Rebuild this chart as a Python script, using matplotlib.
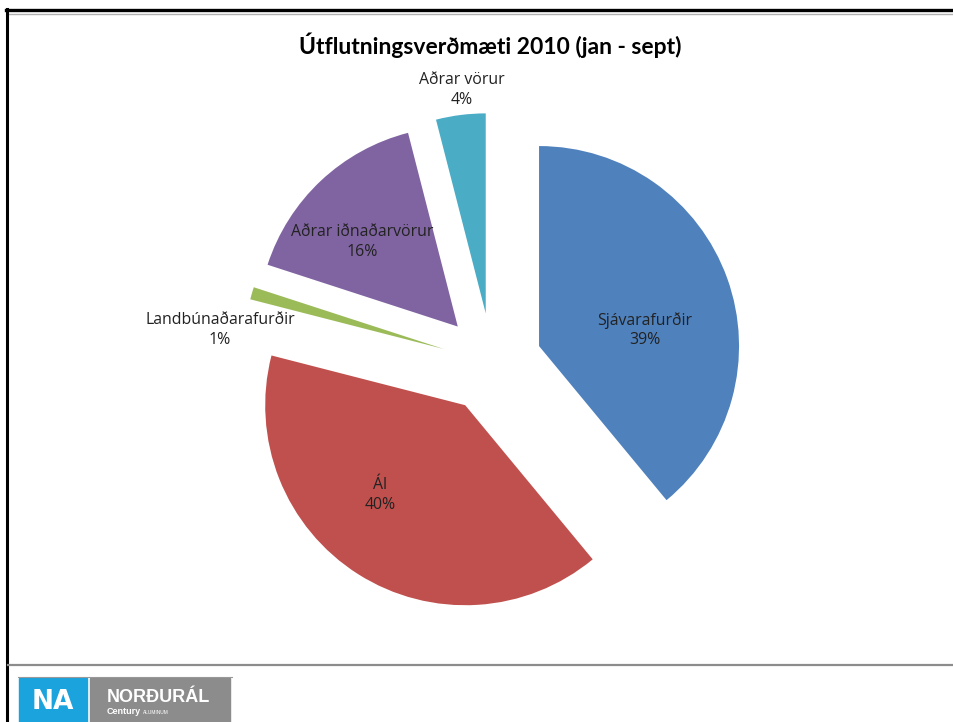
import matplotlib
matplotlib.use("Agg")
import matplotlib.pyplot as plt
from matplotlib.patches import Rectangle
from matplotlib.lines import Line2D
import numpy as np

# ---- data ----
categories = ["Sjávarafurðir", "Ál", "Landbúnaðarafurðir", "Aðrar iðnaðarvörur", "Aðrar vörur"]
values = [39, 40, 1, 16, 4]
title = "Útflutningsverðmæti 2010 (jan - sept)"

# ---- style ----
colors = ["#4F81BD", "#C0504D", "#9BBB59", "#8064A2", "#4BACC6"]
explode = [0.25] * len(values)
# label positions in data units (pie radius = 1)
label_pos = [(0.765, 0.165), (-0.56, -0.66), (-1.36, 0.165), (-0.65, 0.605), (-0.15, 1.365)]

W, H = 954, 722
fig = plt.figure(figsize=(W / 100, H / 100), dpi=100)
fig.patch.set_facecolor("white")

# frame / decorations in pixel coordinates
bg = fig.add_axes([0, 0, 1, 1])
bg.set_xlim(0, W)
bg.set_ylim(H, 0)
bg.axis("off")
bg.add_line(Line2D([6, W], [10, 10], color="black", lw=2.4))
bg.add_line(Line2D([8, W], [13.5, 13.5], color="#b0b0b0", lw=1.0))
bg.add_line(Line2D([7.5, 7.5], [9, H], color="black", lw=2.2))
bg.add_line(Line2D([8, W], [665, 665], color="#8c8c8c", lw=1.6))
bg.add_line(Line2D([18, 232], [676.5, 676.5], color="#999999", lw=0.8))
bg.add_patch(Rectangle((19, 678), 68, 44, color="#1AA3DD"))
bg.add_patch(Rectangle((90, 678), 140, 44, color="#8C8C8C"))
bg.text(53, 702, "NA", color="white", fontsize=19, fontweight="bold",
        family="DejaVu Sans", ha="center", va="center")
bg.text(107, 697, "NORÐURÁL", color="white", fontsize=13, fontweight="bold",
        family="Liberation Sans", ha="left", va="center")
bg.text(107, 712, "Century", color="white", fontsize=6.5, fontweight="bold",
        family="Liberation Sans", ha="left", va="center")
bg.text(143, 712.5, "ALUMINUM", color="white", fontsize=3.5,
        family="Liberation Sans", ha="left", va="center")

# pie axes: center at (492, 363) px, radius 200 px
cx, cy, R = 492.0, 363.0, 200.0
ax = fig.add_axes([0, 0, 1, 1])
ax.patch.set_alpha(0)

ax.pie(values, colors=colors, explode=explode, startangle=90, counterclock=False,
       radius=1.0, wedgeprops=dict(linewidth=0), center=(0, 0), frame=True)
ax.set_xlim((0 - cx) / R, (W - cx) / R)
ax.set_ylim((cy - H) / R, (cy - 0) / R)
ax.axis("off")

for name, v, (lx, ly) in zip(categories, values, label_pos):
    ax.text(lx, ly, f"{name}\n{v}%", ha="center", va="center", fontsize=11.4,
            family="Open Sans", color="#222222", linespacing=1.3)

fig.text(490 / W, 1 - 45 / H, title, ha="center", va="center", fontsize=16.5,
         fontweight="bold", family="Lato", color="black")

fig.savefig("out.png", dpi=100, facecolor="white")
